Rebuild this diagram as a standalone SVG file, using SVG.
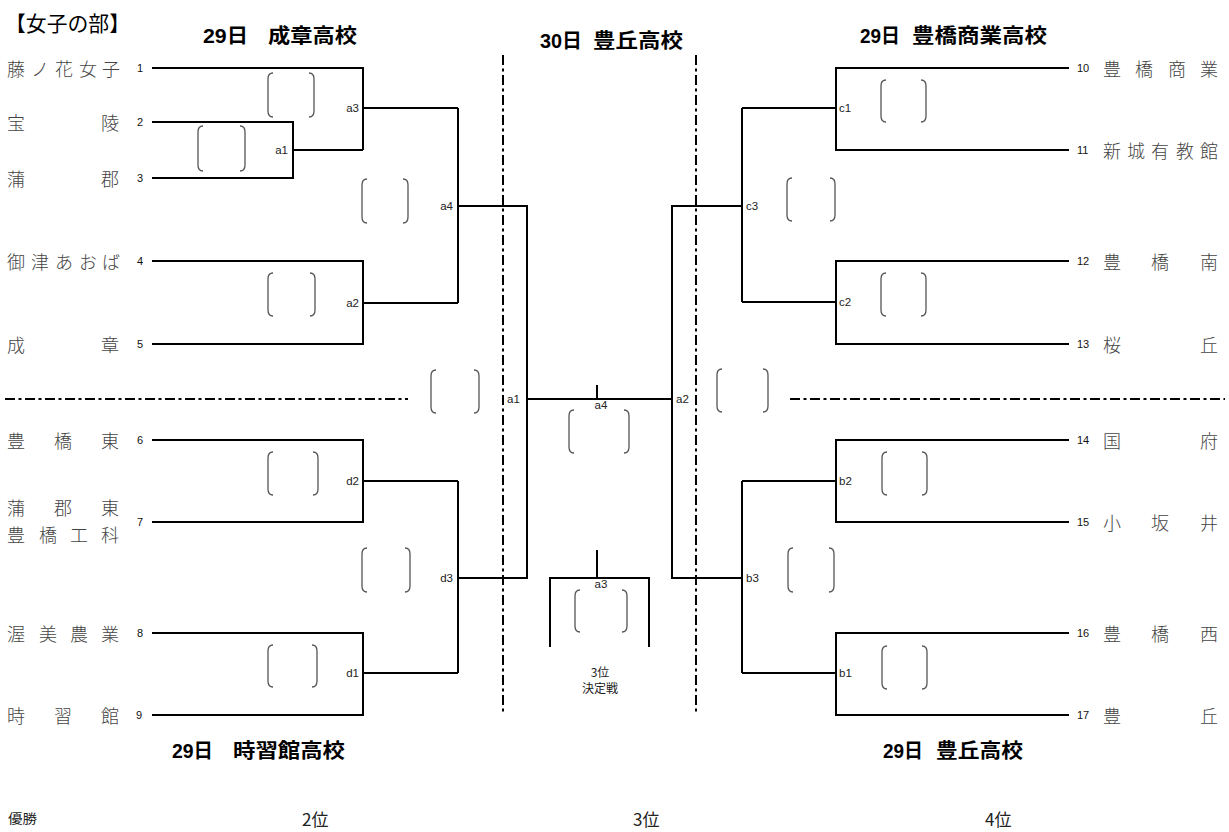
<svg xmlns="http://www.w3.org/2000/svg" width="1229" height="832" viewBox="0 0 1229 832">
<style>
.ln{fill:none;stroke:#000;stroke-width:2}
.dd{fill:none;stroke:#000;stroke-width:2;stroke-dasharray:10 3.5 3 3.5}
.br{fill:none;stroke:#555;stroke-width:1.3}
.nm{font-family:"Noto Sans CJK JP","Noto Sans CJK SC",sans-serif;font-size:18px;font-weight:300;fill:#444}
.no{font-family:"Liberation Sans",Arial,sans-serif;font-size:11px;fill:#111}
.lb{font-family:"Liberation Sans",Arial,sans-serif;font-size:11.5px;fill:#222}
.tt{font-family:"Liberation Sans","Noto Sans CJK JP",sans-serif;font-size:20px;font-weight:bold;fill:#000}
.sm{font-family:"Noto Sans CJK JP",sans-serif;fill:#222}
</style>
<rect width="1229" height="832" fill="#fff"/>

<g id="titles">
<text x="5" y="31" class="sm" style="font-size:21px;fill:#000" textLength="125" lengthAdjust="spacingAndGlyphs">【女子の部】</text>
<text x="203" y="43" class="tt" textLength="45" lengthAdjust="spacingAndGlyphs">29日</text>
<text x="268" y="43" class="tt" textLength="89" lengthAdjust="spacingAndGlyphs">成章高校</text>
<text x="540" y="48" class="tt" textLength="42" lengthAdjust="spacingAndGlyphs">30日</text>
<text x="593" y="48" class="tt" textLength="90" lengthAdjust="spacingAndGlyphs">豊丘高校</text>
<text x="860" y="43" class="tt" textLength="40" lengthAdjust="spacingAndGlyphs">29日</text>
<text x="912" y="43" class="tt" textLength="135" lengthAdjust="spacingAndGlyphs">豊橋商業高校</text>
<text x="172" y="758" class="tt" textLength="41" lengthAdjust="spacingAndGlyphs">29日</text>
<text x="233" y="758" class="tt" textLength="112" lengthAdjust="spacingAndGlyphs">時習館高校</text>
<text x="883" y="758" class="tt" textLength="40" lengthAdjust="spacingAndGlyphs">29日</text>
<text x="936" y="758" class="tt" textLength="87" lengthAdjust="spacingAndGlyphs">豊丘高校</text>
</g>

<g id="dividers">
<path class="dd" d="M503 55 V714 M696 55 V714 M5 399 H408 M790 399 H1225"/>
</g>

<g id="connectors">
<path class="ln" d="M152 68 H363 V150 M152 122 H293 V178 H152 M293 150 H363 M363 108 H458 M152 261 H363 V344 H152 M363 303 H458 M458 108 V303 M458 206 H527 V578 H458 M152 440 H363 V522 H152 M363 481 H458 M152 633 H363 V715 H152 M363 673 H458 M458 481 V673 M527 399 H672"/>
<path class="ln" d="M1069 68 H836 V150 H1069 M836 108 H742 M1069 261 H836 V344 H1069 M836 302 H742 M742 108 V302 M742 206 H672 V578 H742 M1069 440 H836 V522 H1069 M836 481 H742 M1069 633 H836 V715 H1069 M836 673 H742 M742 481 V673"/>
<path class="ln" d="M597 385 V399 M597 550 V578 M550 647 V578 H649 V647"/>
</g>

<g id="brackets">
<path class="br" d="M273 73 Q268 73 268 79 V111 Q268 117 273 117 M309 73 Q314 73 314 79 V111 Q314 117 309 117"/>
<path class="br" d="M203 126 Q198 126 198 132 V165 Q198 171 203 171 M240 126 Q245 126 245 132 V165 Q245 171 240 171"/>
<path class="br" d="M367 179 Q362 179 362 185 V217 Q362 223 367 223 M403 179 Q408 179 408 185 V217 Q408 223 403 223"/>
<path class="br" d="M273 273 Q268 273 268 279 V310 Q268 316 273 316 M310 273 Q315 273 315 279 V310 Q315 316 310 316"/>
<path class="br" d="M436 370 Q431 370 431 376 V407 Q431 413 436 413 M474 370 Q479 370 479 376 V407 Q479 413 474 413"/>
<path class="br" d="M273 452 Q268 452 268 458 V489 Q268 495 273 495 M313 452 Q318 452 318 458 V489 Q318 495 313 495"/>
<path class="br" d="M367 548 Q362 548 362 554 V586 Q362 592 367 592 M405 548 Q410 548 410 554 V586 Q410 592 405 592"/>
<path class="br" d="M273 645 Q268 645 268 651 V681 Q268 687 273 687 M312 645 Q317 645 317 651 V681 Q317 687 312 687"/>
<path class="br" d="M574 410 Q569 410 569 416 V447 Q569 453 574 453 M624 410 Q629 410 629 416 V447 Q629 453 624 453"/>
<path class="br" d="M580 590 Q575 590 575 596 V626 Q575 632 580 632 M622 590 Q627 590 627 596 V626 Q627 632 622 632"/>
<path class="br" d="M722 369 Q717 369 717 375 V406 Q717 412 722 412 M763 369 Q768 369 768 375 V406 Q768 412 763 412"/>
<path class="br" d="M886 80 Q881 80 881 86 V116 Q881 122 886 122 M921 80 Q926 80 926 86 V116 Q926 122 921 122"/>
<path class="br" d="M792 178 Q787 178 787 184 V215 Q787 221 792 221 M830 178 Q835 178 835 184 V215 Q835 221 830 221"/>
<path class="br" d="M886 273 Q881 273 881 279 V310 Q881 316 886 316 M921 273 Q926 273 926 279 V310 Q926 316 921 316"/>
<path class="br" d="M887 452 Q882 452 882 458 V489 Q882 495 887 495 M922 452 Q927 452 927 458 V489 Q927 495 922 495"/>
<path class="br" d="M793 548 Q788 548 788 554 V586 Q788 592 793 592 M829 548 Q834 548 834 554 V586 Q834 592 829 592"/>
<path class="br" d="M887 646 Q882 646 882 652 V683 Q882 689 887 689 M922 646 Q927 646 927 652 V683 Q927 689 922 689"/>
</g>

<g id="match-labels">
<text class="lb" x="288" y="154" text-anchor="end">a1</text>
<text class="lb" x="359" y="112" text-anchor="end">a3</text>
<text class="lb" x="359" y="307" text-anchor="end">a2</text>
<text class="lb" x="453" y="210" text-anchor="end">a4</text>
<text class="lb" x="359" y="485" text-anchor="end">d2</text>
<text class="lb" x="359" y="677" text-anchor="end">d1</text>
<text class="lb" x="453" y="582" text-anchor="end">d3</text>
<text class="lb" x="507" y="403">a1</text>
<text class="lb" x="676" y="403">a2</text>
<text class="lb" x="601" y="409" text-anchor="middle">a4</text>
<text class="lb" x="601" y="588" text-anchor="middle">a3</text>
<text class="lb" x="746" y="210">c3</text>
<text class="lb" x="839" y="112">c1</text>
<text class="lb" x="839" y="306">c2</text>
<text class="lb" x="839" y="485">b2</text>
<text class="lb" x="839" y="677">b1</text>
<text class="lb" x="746" y="582">b3</text>
</g>

<g id="team-left">
<text class="nm" x="7 31 55 79 102" y="76">藤ノ花女子</text>
<text class="no" x="137" y="72">1</text>
<text class="nm" x="7 101" y="130">宝陵</text>
<text class="no" x="137" y="126">2</text>
<text class="nm" x="7 101" y="186">蒲郡</text>
<text class="no" x="137" y="182">3</text>
<text class="nm" x="7 31 55 79 102" y="269">御津あおば</text>
<text class="no" x="137" y="265">4</text>
<text class="nm" x="7 101" y="352">成章</text>
<text class="no" x="137" y="348">5</text>
<text class="nm" x="7 54 101" y="448">豊橋東</text>
<text class="no" x="137" y="444">6</text>
<text class="nm" x="7 54 101" y="515">蒲郡東</text>
<text class="nm" x="7 39 70 101" y="542">豊橋工科</text>
<text class="no" x="137" y="526">7</text>
<text class="nm" x="7 39 70 101" y="641">渥美農業</text>
<text class="no" x="137" y="637">8</text>
<text class="nm" x="7 54 101" y="723">時習館</text>
<text class="no" x="136" y="719">9</text>
</g>

<g id="team-right">
<text class="no" x="1077" y="72">10</text>
<text class="nm" x="1103 1135 1168 1200" y="76">豊橋商業</text>
<text class="no" x="1077" y="154">11</text>
<text class="nm" x="1103 1127 1151 1176 1200" y="158">新城有教館</text>
<text class="no" x="1077" y="265">12</text>
<text class="nm" x="1103 1151 1200" y="269">豊橋南</text>
<text class="no" x="1077" y="348">13</text>
<text class="nm" x="1103 1200" y="352">桜丘</text>
<text class="no" x="1077" y="444">14</text>
<text class="nm" x="1103 1200" y="448">国府</text>
<text class="no" x="1077" y="526">15</text>
<text class="nm" x="1103 1151 1200" y="530">小坂井</text>
<text class="no" x="1077" y="637">16</text>
<text class="nm" x="1103 1151 1200" y="641">豊橋西</text>
<text class="no" x="1077" y="719">17</text>
<text class="nm" x="1103 1200" y="723">豊丘</text>
</g>

<g id="third-place">
<text class="sm" x="600" y="677" text-anchor="middle" style="font-size:12px">3位</text>
<text class="sm" x="600" y="693" text-anchor="middle" style="font-size:12px">決定戦</text>
</g>

<g id="results">
<text class="sm" x="8" y="823" style="font-size:13px" textLength="29" lengthAdjust="spacingAndGlyphs">優勝</text>
<text class="sm" x="302" y="826" style="font-size:17px">2位</text>
<text class="sm" x="633" y="826" style="font-size:17px">3位</text>
<text class="sm" x="985" y="826" style="font-size:17px">4位</text>
</g>
</svg>
